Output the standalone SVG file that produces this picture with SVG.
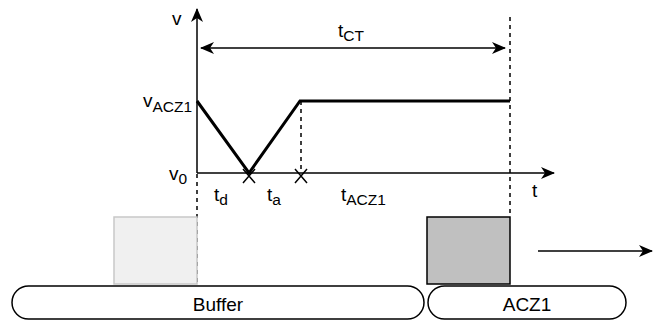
<svg xmlns="http://www.w3.org/2000/svg" width="653" height="320" viewBox="0 0 653 320">
<defs>
<style>
.t{font-family:"Liberation Sans",Arial,Helvetica,sans-serif;font-size:19px;fill:#000}
.s{font-size:15.5px}
.ln{stroke:#000;stroke-width:1.5;fill:none}
.dash{stroke:#000;stroke-width:1.5;fill:none;stroke-dasharray:4 4}
.thick{stroke:#000;stroke-width:3;fill:none;stroke-linejoin:miter}
.pill{fill:#fff;stroke:#000;stroke-width:1.5}
</style>
<marker id="ah" viewBox="0 0 14 12" refX="13" refY="6" markerWidth="14" markerHeight="12" markerUnits="userSpaceOnUse" orient="auto-start-reverse">
<path d="M0,0 L14,6 L0,12 L4,6 Z" fill="#000"/>
</marker>
</defs>
<rect width="653" height="320" fill="#fff"/>
<g id="connectors">
<line class="ln" x1="197" y1="173" x2="197" y2="9" marker-end="url(#ah)"/>
<line class="ln" x1="197" y1="173" x2="554" y2="173" marker-end="url(#ah)"/>
<line class="ln" x1="201" y1="48" x2="505" y2="48" marker-start="url(#ah)" marker-end="url(#ah)"/>
<line class="dash" x1="510" y1="17" x2="510" y2="217"/>
<line class="dash" x1="301" y1="101" x2="301" y2="173"/>
<line class="dash" x1="197" y1="174" x2="197" y2="284"/>
<line class="ln" x1="538" y1="251" x2="652" y2="251" marker-end="url(#ah)"/>
</g>
<g id="curve">
<polyline class="thick" points="197,101 249,173 300,101 510,101"/>
</g>
<g id="marks">
<path class="ln" d="M243,169 L255,183 M255,169 L243,183"/>
<path class="ln" d="M295,169 L307,183 M307,169 L295,183"/>
</g>
<g id="labels">
<text class="t" x="172" y="25">v</text>
<text class="t" x="338" y="37">t<tspan class="s" dy="4">CT</tspan></text>
<text class="t" x="192" y="107" text-anchor="end">v<tspan class="s" dy="5">ACZ1</tspan></text>
<text class="t" x="187" y="180" text-anchor="end">v<tspan class="s" dy="4">0</tspan></text>
<text class="t" x="214" y="201">t<tspan class="s" dy="4">d</tspan></text>
<text class="t" x="267" y="201">t<tspan class="s" dy="4">a</tspan></text>
<text class="t" x="341" y="201">t<tspan class="s" dy="4">ACZ1</tspan></text>
<text class="t" x="532" y="197">t</text>
</g>
<g id="box-light">
<rect x="114" y="217" width="83" height="67" fill="#f0f0f0" stroke="#c8c8c8" stroke-width="1.5"/>
</g>
<g id="box-grey">
<rect x="427" y="217" width="83" height="67" fill="#c0c0c0" stroke="#000" stroke-width="1.5"/>
</g>
<g id="buffer">
<rect class="pill" x="12" y="286" width="412" height="33" rx="16.5" ry="16.5"/>
<text class="t" x="218" y="311" text-anchor="middle">Buffer</text>
</g>
<g id="acz1">
<rect class="pill" x="428" y="286" width="198" height="33" rx="16.5" ry="16.5"/>
<text class="t" x="527" y="311" text-anchor="middle">ACZ1</text>
</g>
</svg>
